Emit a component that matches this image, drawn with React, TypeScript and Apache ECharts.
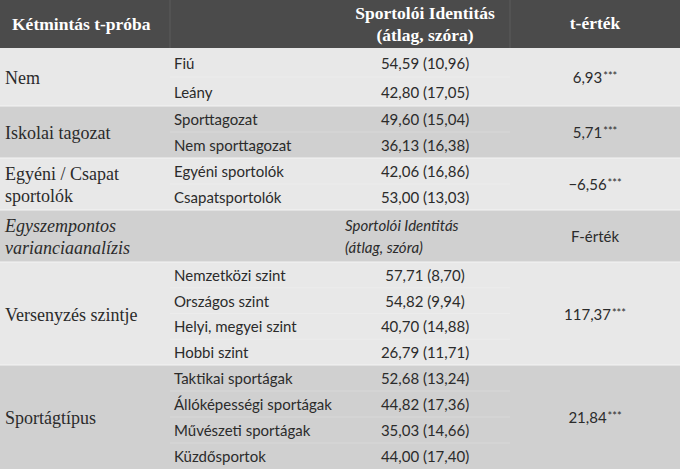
import { useEffect, useRef } from "react";
import * as echarts from "echarts";

const headerLabels = ["Kétmintás t-próba", "Sportolói Identitás\n(átlag, szóra)", "t-érték"];
const groupLabels = [
  "Nem",
  "Iskolai tagozat",
  "Egyéni / Csapat\nsportolók",
  "Egyszempontos\nvarianciaanalízis",
  "Versenyzés szintje",
  "Sportágtípus",
];
const subCategories = [
  ["Fiú", "Leány"],
  ["Sporttagozat", "Nem sporttagozat"],
  ["Egyéni sportolók", "Csapatsportolók"],
  [],
  ["Nemzetközi szint", "Országos szint", "Helyi, megyei szint", "Hobbi szint"],
  ["Taktikai sportágak", "Állóképességi sportágak", "Művészeti sportágak", "Küzdősportok"],
];
const means = [
  [54.59, 42.8],
  [49.6, 36.13],
  [42.06, 53.0],
  [],
  [57.71, 54.82, 40.7, 26.79],
  [52.68, 44.82, 35.03, 44.0],
];
const sds = [
  [10.96, 17.05],
  [15.04, 16.38],
  [16.86, 13.03],
  [],
  [8.7, 9.94, 14.88, 11.71],
  [13.24, 17.36, 14.66, 17.4],
];
const testStats = [6.93, 5.71, -6.56, null, 117.37, 21.84];
const significance = ["***", "***", "***", "", "***", "***"];
const anovaHeader = ["Sportolói Identitás\n(átlag, szóra)", "F-érték"];

// layout
const groupTops = [48, 106, 158, 210, 262, 365];
const groupBottoms = [106, 158, 210, 262, 365, 469];
const colX = [0, 170, 340, 510, 680];
const LIGHT = "#e8e8e8";
const DARK = "#d0d0d0";
const HEADER = "#4b4b4b";
const TEXT = "#2b2b2b";
const SERIF = "'Liberation Serif', 'DejaVu Serif', serif";
const SANS = "Lato, 'Noto Sans', sans-serif";

const fmt = (v: number) => (v < 0 ? "−" : "") + Math.abs(v).toFixed(2).replace(".", ",");

export default function App() {
  const ref = useRef<HTMLDivElement>(null);
  useEffect(() => {
    document.body.style.margin = "0";
    const chart = echarts.init(ref.current!, null, { renderer: "svg" });
    const els: any[] = [];
    els.push({ type: "rect", shape: { x: 0, y: 0, width: 685, height: 469 }, style: { fill: "#ffffff" } });
    els.push({ type: "rect", shape: { x: 0, y: 0, width: colX[4], height: 48 }, style: { fill: HEADER } });
    [colX[1], colX[3]].forEach((x) =>
      els.push({ type: "line", shape: { x1: x, y1: 0, x2: x, y2: 48 }, style: { stroke: "#5c5c5c", lineWidth: 1 } })
    );
    els.push({
      type: "text", x: 12, y: 24,
      style: { text: headerLabels[0], fill: "#ffffff", font: `bold 17.5px ${SERIF}`, textAlign: "left", textVerticalAlign: "middle" },
    });
    els.push({
      type: "text", x: 425, y: 24,
      style: { text: headerLabels[1], fill: "#ffffff", font: `bold 17.5px ${SERIF}`, textAlign: "center", textVerticalAlign: "middle", lineHeight: 22 },
    });
    els.push({
      type: "text", x: 595, y: 23,
      style: { text: headerLabels[2], fill: "#ffffff", font: `bold 17.5px ${SERIF}`, textAlign: "center", textVerticalAlign: "middle" },
    });

    groupLabels.forEach((label, g) => {
      const top = groupTops[g];
      const bot = groupBottoms[g];
      const fill = g % 2 === 0 ? LIGHT : DARK;
      els.push({ type: "rect", shape: { x: 0, y: top, width: colX[4], height: bot - top }, style: { fill } });
      if (g > 0) {
        els.push({ type: "line", shape: { x1: 0, y1: top, x2: colX[4], y2: top }, style: { stroke: "#f4f4f4", lineWidth: 1.2 } });
      }
      const mid = (top + bot) / 2;
      const isAnova = g === 3;
      els.push({
        type: "text", x: 5, y: mid + 1,
        style: {
          text: label, fill: TEXT,
          font: `${isAnova ? "italic " : ""}18px ${SERIF}`,
          textAlign: "left", textVerticalAlign: "middle", lineHeight: 22,
        },
      });
      if (isAnova) {
        els.push({
          type: "text", x: 345, y: mid,
          style: { text: anovaHeader[0], fill: TEXT, font: `italic 15px ${SANS}`, textAlign: "left", textVerticalAlign: "middle", lineHeight: 22 },
        });
        els.push({
          type: "text", x: 595, y: mid,
          style: { text: anovaHeader[1], fill: TEXT, font: `15px ${SANS}`, textAlign: "center", textVerticalAlign: "middle" },
        });
        return;
      }
      const subs = subCategories[g];
      const h = (bot - top) / subs.length;
      subs.forEach((s, i) => {
        const cy = top + (i + 0.5) * h;
        if (i > 0) {
          els.push({
            type: "line", shape: { x1: colX[1], y1: top + i * h, x2: colX[3], y2: top + i * h },
            style: { stroke: g % 2 === 0 ? "#ececec" : "#d8d8d8", lineWidth: 1 },
          });
        }
        els.push({
          type: "text", x: 174, y: cy,
          style: { text: s, fill: TEXT, font: `15px ${SANS}`, textAlign: "left", textVerticalAlign: "middle" },
        });
        els.push({
          type: "text", x: 425, y: cy,
          style: {
            text: `${fmt(means[g][i])} (${fmt(sds[g][i])})`, fill: TEXT, font: `15px ${SANS}`,
            textAlign: "center", textVerticalAlign: "middle",
          },
        });
      });
      const stat = testStats[g];
      if (stat !== null) {
        els.push({
          type: "text", x: 595, y: mid,
          style: {
            text: `{v|${fmt(stat)}}{s|${significance[g]}}`,
            textAlign: "center", textVerticalAlign: "middle",
            rich: {
              v: { fontSize: 15, fontFamily: SANS, fill: TEXT, lineHeight: 20 },
              s: { fontSize: 11, fontFamily: SANS, fill: TEXT, lineHeight: 20, padding: [0, 0, 3, 1] },
            },
          },
        });
      }
    });

    chart.setOption({ animation: false, graphic: { elements: els } });
    return () => chart.dispose();
  }, []);
  return <div ref={ref} style={{ width: 685, height: 469 }} />;
}
